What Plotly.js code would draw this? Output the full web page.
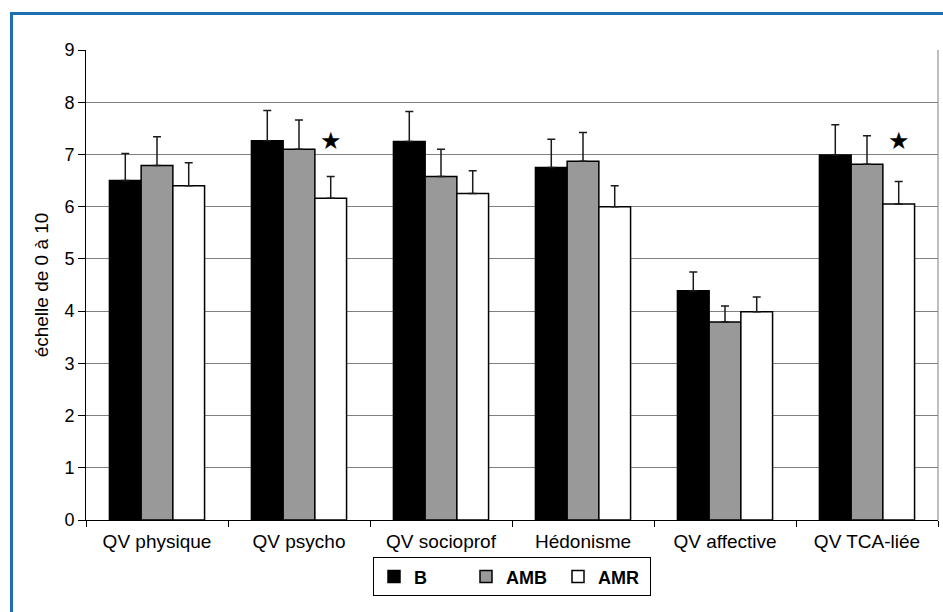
<!DOCTYPE html>
<html>
<head>
<meta charset="utf-8">
<script src="https://cdn.plot.ly/plotly-3.0.1.min.js"></script>
<style>
  html, body { margin: 0; padding: 0; background: #ffffff; }
  #frame { position: absolute; left: 10px; top: 12px; width: 940px; height: 610px;
           border-left: 3px solid #1f6db4; border-top: 3px solid #1f6db4; box-sizing: border-box; }
  #chart { position: absolute; left: 0; top: 0; width: 943px; height: 612px; }
</style>
</head>
<body>
<div id="frame"></div>
<div id="chart"></div>
<script>
// ---- data ----
const categories = ["QV physique", "QV psycho", "QV socioprof", "Hédonisme", "QV affective", "QV TCA-liée"];
const seriesNames = ["B", "AMB", "AMR"];
const valuesB   = [6.50, 7.26, 7.25, 6.75, 4.39, 6.99];
const valuesAMB = [6.79, 7.10, 6.58, 6.87, 3.79, 6.81];
const valuesAMR = [6.40, 6.16, 6.25, 6.00, 3.99, 6.05];
const errB   = [0.52, 0.58, 0.57, 0.54, 0.36, 0.58];
const errAMB = [0.55, 0.56, 0.52, 0.55, 0.31, 0.55];
const errAMR = [0.44, 0.42, 0.44, 0.40, 0.28, 0.43];
const starCategoryIndex = [1, 5];
const starY = [7.26, 7.25];
const yTicks = [0, 1, 2, 3, 4, 5, 6, 7, 8, 9];

// ---- styles ----
const fills = ["#000000", "#999999", "#ffffff"];
const BARGAP = 0.33;

function barTrace(name, vals, errs, fill) {
  return {
    type: "bar",
    name: name,
    x: categories,
    y: vals,
    marker: { color: fill, line: { color: "#000000", width: 1.5 } },
    error_y: {
      type: "data", symmetric: false, array: errs,
      arrayminus: errs.map(() => 0),
      color: "#1a1a1a", thickness: 1.5, width: 4
    },
    hoverinfo: "none"
  };
}

const traces = [
  barTrace(seriesNames[0], valuesB, errB, fills[0]),
  barTrace(seriesNames[1], valuesAMB, errAMB, fills[1]),
  barTrace(seriesNames[2], valuesAMR, errAMR, fills[2])
];

const amrOffset = (1 - BARGAP) / 3;
const annotations = starCategoryIndex.map((ci, k) => ({
  x: ci + amrOffset, y: starY[k], xref: "x", yref: "y",
  text: "★", showarrow: false,
  font: { family: "DejaVu Sans", size: 24, color: "#000000" },
  xanchor: "center", yanchor: "middle"
}));

const layout = {
  width: 943, height: 612,
  margin: { l: 86, r: 5, t: 50, b: 92, pad: 0 },
  paper_bgcolor: "rgba(0,0,0,0)",
  plot_bgcolor: "#ffffff",
  font: { family: "Liberation Sans, Arial, sans-serif", color: "#000000" },
  barmode: "group",
  bargap: BARGAP,
  bargroupgap: 0,
  showlegend: true,
  legend: {
    orientation: "h",
    x: 0.5, xanchor: "center",
    y: -0.121, yanchor: "middle",
    bordercolor: "#000000", borderwidth: 1,
    bgcolor: "#ffffff",
    font: { family: "Liberation Sans, Arial, sans-serif", size: 18, color: "#000000", weight: "bold" },
    entrywidth: 47,
    itemwidth: 30,
    traceorder: "normal"
  },
  xaxis: {
    type: "category",
    tickson: "boundaries",
    ticks: "outside", ticklen: 6, tickcolor: "#000000", tickwidth: 1,
    showline: true, linecolor: "#000000", linewidth: 1,
    showgrid: false,
    ticklabelstandoff: 4,
    tickfont: { size: 19, color: "#000000" },
    fixedrange: true
  },
  yaxis: {
    range: [0, 9],
    tickvals: yTicks,
    ticktext: yTicks.map(String),
    ticks: "outside", ticklen: 7, tickcolor: "#000000", tickwidth: 1,
    showline: true, linecolor: "#000000", linewidth: 1,
    showgrid: true, gridcolor: "#808080", gridwidth: 1,
    zeroline: false,
    tickfont: { size: 18, color: "#000000" },
    title: { text: "échelle de 0 à 10", font: { size: 19, color: "#000000" }, standoff: 10 },
    fixedrange: true
  },
  shapes: [
    { type: "line", xref: "paper", yref: "paper", x0: 1, x1: 1, y0: 0, y1: 1,
      line: { color: "#808080", width: 1 } }
  ],
  annotations: annotations
};

Plotly.newPlot("chart", traces, layout, { displayModeBar: false, staticPlot: true });
</script>
</body>
</html>
